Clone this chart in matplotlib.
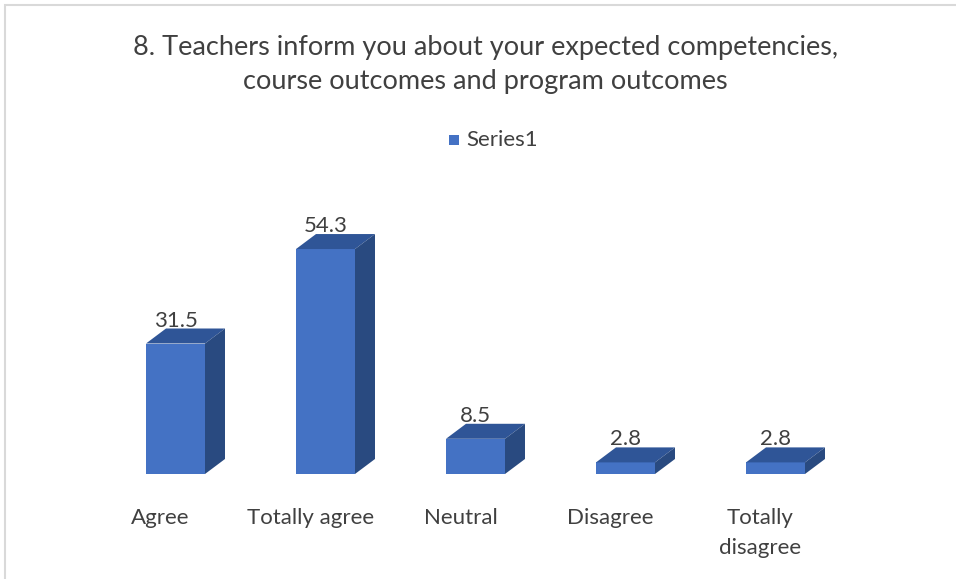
import numpy as np
import matplotlib.pyplot as plt
from matplotlib.patches import Polygon, Rectangle
from matplotlib.transforms import blended_transform_factory, offset_copy

categories = ["Agree", "Totally agree", "Neutral", "Disagree", "Totally\ndisagree"]
values = [31.5, 54.3, 8.5, 2.8, 2.8]
series_name = "Series1"
title = "8. Teachers inform you about your expected competencies,\ncourse outcomes and program outcomes"

front = "#4472C4"
top_c = "#2F5597"
side_c = "#294A80"
txt = "#404040"

plt.rcParams['font.family'] = ['Lato', 'DejaVu Sans']

W, H = 956, 579
fig = plt.figure(figsize=(W / 100, H / 100), dpi=100)

# axes placed so that category i lands at 175.5 + 150*i px, baseline at 474 px
xmin, xmax = -0.8, 4.8
ymin, ymax = 0, 70
ax = fig.add_axes([55.5 / W, 105 / H, 840 / W, 290 / H])
ax.set_xlim(xmin, xmax)
ax.set_ylim(ymin, ymax)
ax.axis('off')

px_x = 840 / (xmax - xmin)
px_y = 290 / (ymax - ymin)
bw = 59 / px_x          # bar width
ddx = 20 / px_x         # depth offset x
ddy = 15 / px_y         # depth offset y

x = np.arange(len(categories))
ax.bar(x, values, width=bw, color=front, zorder=2)

for xi, v in zip(x, values):
    l, r = xi - bw / 2, xi + bw / 2
    ax.add_patch(Polygon([(l, v), (r, v), (r + ddx, v + ddy), (l + ddx, v + ddy)],
                         closed=True, facecolor=top_c, edgecolor='none', zorder=2, clip_on=False))
    ax.add_patch(Polygon([(r, 0), (r + ddx, ddy), (r + ddx, v + ddy), (r, v)],
                         closed=True, facecolor=side_c, edgecolor='none', zorder=2, clip_on=False))
    ax.annotate(f"{v}", (xi, v + ddy), xytext=(0, -1.5), textcoords='offset points',
                ha='center', va='bottom', fontsize=16, color=txt)

# category labels, shifted left a bit like the perspective floor
tr = offset_copy(blended_transform_factory(ax.transData, ax.transAxes), fig=fig, x=-15, y=0, units='dots')
for xi, c in zip(x, categories):
    ax.text(xi, -34 / 290, c, transform=tr, ha='center', va='top', fontsize=16,
            color=txt, linespacing=1.6)

fig.text(485 / W, 1 - 64 / H, title, ha='center', va='center', fontsize=19.5,
         color=txt, linespacing=1.45)

# legend
fig.add_artist(Rectangle((449 / W, 1 - 145 / H), 10 / W, 10 / H, transform=fig.transFigure,
                         facecolor=front, edgecolor='none'))
fig.text(466 / W, 1 - 140 / H, series_name, ha='left', va='center', fontsize=16, color=txt)

# chart frame
fig.add_artist(Rectangle((4.5 / W, -0.05), 1.1, 1 - 4.5 / H + 0.05, transform=fig.transFigure,
                         facecolor='none', edgecolor='#D9D9D9', linewidth=1.5))

fig.savefig("out.png", dpi=100)
